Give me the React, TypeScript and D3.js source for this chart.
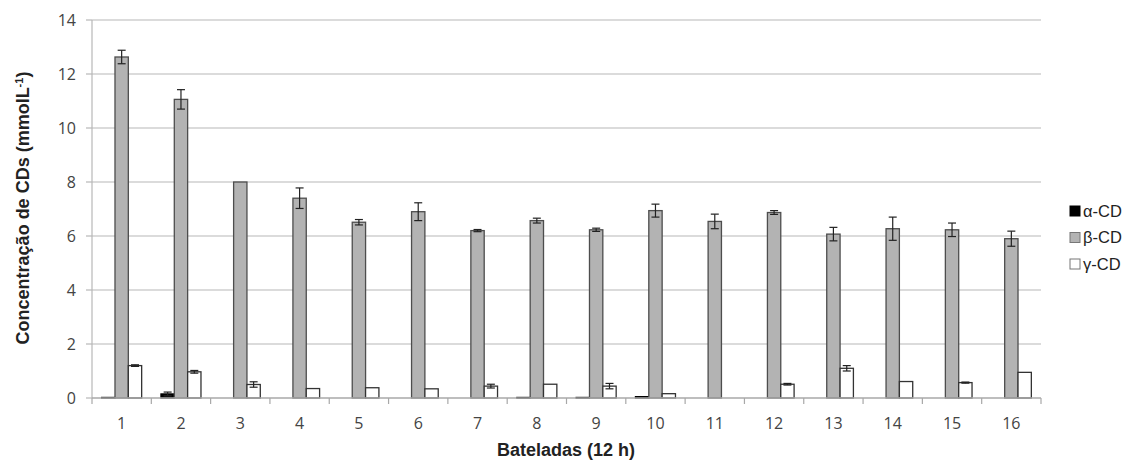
import React, { useEffect, useRef } from "react";
import * as d3 from "d3";

// batches 1..16
const batches = ["1", "2", "3", "4", "5", "6", "7", "8", "9", "10", "11", "12", "13", "14", "15", "16"];
const seriesNames = ["α-CD", "β-CD", "γ-CD"];

const alphaVals = [0.02, 0.15, 0, 0, 0, 0, 0, 0.02, 0.02, 0.05, 0, 0, 0, 0, 0, 0];
const alphaErr = [0, 0.07, 0, 0, 0, 0, 0, 0, 0, 0, 0, 0, 0, 0, 0, 0];
const betaVals = [12.63, 11.06, 8.0, 7.4, 6.51, 6.9, 6.2, 6.57, 6.23, 6.94, 6.54, 6.87, 6.07, 6.27, 6.23, 5.9];
const betaErr = [0.25, 0.36, 0, 0.38, 0.1, 0.33, 0.04, 0.09, 0.06, 0.24, 0.27, 0.07, 0.25, 0.43, 0.25, 0.28];
const gammaVals = [1.2, 0.97, 0.5, 0.35, 0.38, 0.34, 0.44, 0.51, 0.44, 0.16, 0, 0.51, 1.1, 0.61, 0.57, 0.95];
const gammaErr = [0.03, 0.05, 0.1, 0, 0, 0, 0.07, 0, 0.1, 0, 0, 0.03, 0.1, 0, 0.02, 0];

const yTicks = [0, 2, 4, 6, 8, 10, 12, 14];

const fills = ["#000000", "#b3b3b3", "#ffffff"];
const strokes = ["#000000", "#4d4d4d", "#333333"];

const App = () => {
  const svgRef = useRef<SVGSVGElement>(null);

  useEffect(() => {
    const svg = d3.select(svgRef.current);
    svg.selectAll("*").remove();

    const left = 92;
    const right = 1041;
    const top = 20;
    const bottom = 398;
    const font = "'Liberation Sans', Arial, sans-serif";
    const tickFont = "'Open Sans', 'Liberation Sans', sans-serif";

    const x = d3.scaleBand().domain(batches).range([left, right]).paddingInner(0).paddingOuter(0);
    const y = d3.scaleLinear().domain([0, 14]).range([bottom, top]);
    const inner = d3.scaleBand().domain(seriesNames).range([0, x.bandwidth() * 40 / 59.3]);
    const groupOffset = (x.bandwidth() - inner.range()[1]) / 2;

    // gridlines
    svg.append("g")
      .selectAll("line")
      .data(yTicks.filter((t) => t > 0))
      .enter()
      .append("line")
      .attr("x1", left)
      .attr("x2", right)
      .attr("y1", (d) => y(d))
      .attr("y2", (d) => y(d))
      .attr("stroke", "#b8b8b8")
      .attr("stroke-width", 1.2);

    // y axis line + ticks
    svg.append("line")
      .attr("x1", left).attr("x2", left)
      .attr("y1", top).attr("y2", bottom)
      .attr("stroke", "#b8b8b8").attr("stroke-width", 1.2);
    svg.append("g")
      .selectAll("line")
      .data(yTicks)
      .enter()
      .append("line")
      .attr("x1", left - 6).attr("x2", left)
      .attr("y1", (d) => y(d)).attr("y2", (d) => y(d))
      .attr("stroke", "#b8b8b8").attr("stroke-width", 1.2);
    svg.append("g")
      .selectAll("text")
      .data(yTicks)
      .enter()
      .append("text")
      .attr("x", left - 16)
      .attr("y", (d) => y(d))
      .attr("dy", "0.36em")
      .attr("text-anchor", "end")
      .attr("fill", "#444")
      .style("font-family", tickFont)
      .style("font-size", "16px")
      .text((d) => d);

    // series bars
    const series = [
      { vals: alphaVals, err: alphaErr },
      { vals: betaVals, err: betaErr },
      { vals: gammaVals, err: gammaErr },
    ];

    series.forEach((s, si) => {
      const g = svg.append("g");
      const bx = (i: number) => (x(batches[i]) as number) + groupOffset + (inner(seriesNames[si]) as number);
      g.selectAll("rect")
        .data(s.vals.map((v, i) => ({ v, i })).filter((d) => d.v > 0))
        .enter()
        .append("rect")
        .attr("x", (d) => bx(d.i))
        .attr("y", (d) => y(d.v))
        .attr("width", inner.bandwidth())
        .attr("height", (d) => bottom - y(d.v))
        .attr("fill", fills[si])
        .attr("stroke", strokes[si])
        .attr("stroke-width", 1.3);

      // error bars
      const errs = s.vals.map((v, i) => ({ v, e: s.err[i], i })).filter((d) => d.e > 0);
      const eg = g.selectAll("g.err").data(errs).enter().append("g");
      const cx = (d: { i: number }) => bx(d.i) + inner.bandwidth() / 2;
      eg.append("line")
        .attr("x1", cx).attr("x2", cx)
        .attr("y1", (d) => y(d.v + d.e)).attr("y2", (d) => y(d.v - d.e))
        .attr("stroke", "#222").attr("stroke-width", 1.2);
      [1, -1].forEach((sign) => {
        eg.append("line")
          .attr("x1", (d) => cx(d) - 4).attr("x2", (d) => cx(d) + 4)
          .attr("y1", (d) => y(d.v + sign * d.e)).attr("y2", (d) => y(d.v + sign * d.e))
          .attr("stroke", "#222").attr("stroke-width", 1.2);
      });
    });

    // x axis
    svg.append("line")
      .attr("x1", left).attr("x2", right)
      .attr("y1", bottom).attr("y2", bottom)
      .attr("stroke", "#a8a8a8").attr("stroke-width", 1.3);
    svg.append("g")
      .selectAll("line")
      .data([...batches.map((b) => x(b) as number), right])
      .enter()
      .append("line")
      .attr("x1", (d) => d).attr("x2", (d) => d)
      .attr("y1", bottom).attr("y2", bottom + 6)
      .attr("stroke", "#a8a8a8").attr("stroke-width", 1.2);
    svg.append("g")
      .selectAll("text")
      .data(batches)
      .enter()
      .append("text")
      .attr("x", (d) => (x(d) as number) + x.bandwidth() / 2)
      .attr("y", 429)
      .attr("text-anchor", "middle")
      .attr("fill", "#444")
      .style("font-family", tickFont)
      .style("font-size", "16px")
      .text((d) => d);

    // axis titles
    svg.append("text")
      .attr("x", 566)
      .attr("y", 456)
      .attr("text-anchor", "middle")
      .attr("fill", "#222")
      .style("font-family", font)
      .style("font-size", "18px")
      .style("font-weight", "bold")
      .text("Bateladas (12 h)");

    const yt = svg.append("text")
      .attr("transform", "translate(29,208) rotate(-90)")
      .attr("text-anchor", "middle")
      .attr("fill", "#222")
      .style("font-family", font)
      .style("font-size", "18px")
      .style("font-weight", "bold");
    yt.append("tspan").text("Concentração de CDs (mmolL");
    yt.append("tspan").attr("dy", -6).style("font-size", "11px").text("-1");
    yt.append("tspan").attr("dy", 6).text(")");

    // legend
    const lg = svg.append("g")
      .selectAll("g")
      .data(seriesNames)
      .enter()
      .append("g")
      .attr("transform", (d, i) => `translate(1070,${211 + i * 26.5})`);
    lg.append("rect")
      .attr("x", 0).attr("y", -5)
      .attr("width", 10).attr("height", 10)
      .attr("fill", (d, i) => fills[i])
      .attr("stroke", (d, i) => (i === 0 ? "#000" : "#777"))
      .attr("stroke-width", 1);
    lg.append("text")
      .attr("x", 13)
      .attr("y", 0)
      .attr("dy", "0.36em")
      .attr("fill", "#222")
      .style("font-family", font)
      .style("font-size", "16.5px")
      .text((d) => d);
  }, []);

  return (
    <svg
      ref={svgRef}
      width={1126}
      height={460}
      style={{ position: "absolute", left: 0, top: 0, background: "#fff" }}
    ></svg>
  );
};

export default App;
